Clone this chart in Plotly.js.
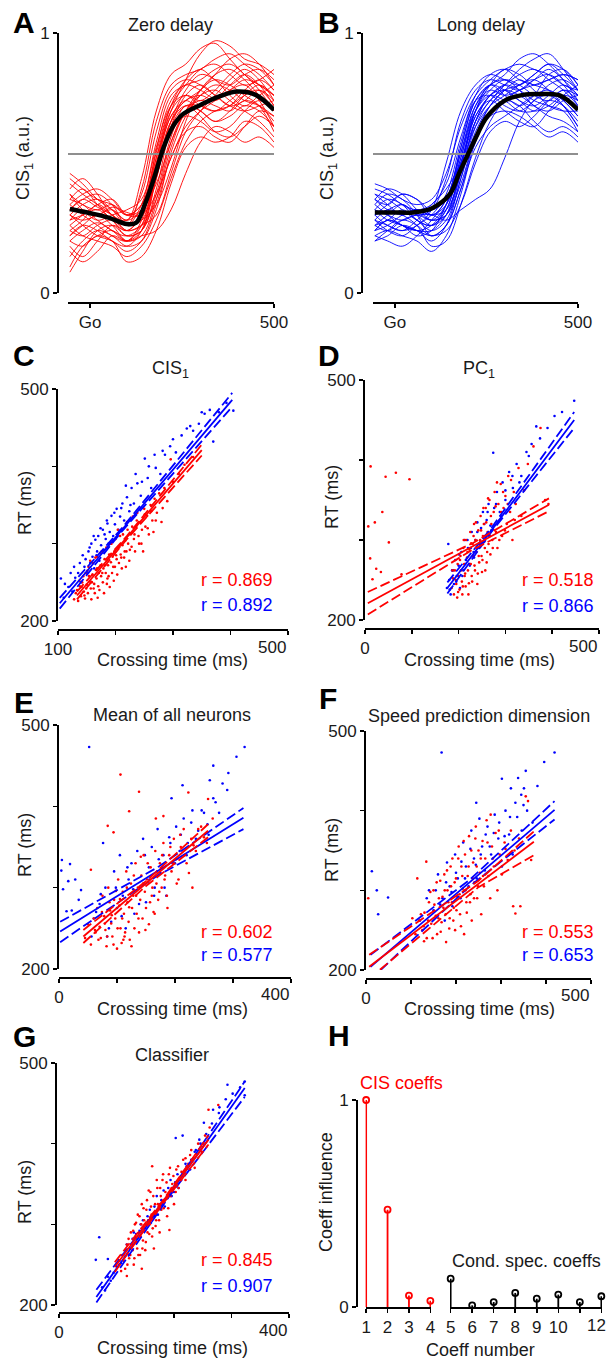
<!DOCTYPE html>
<html><head><meta charset="utf-8">
<script src="https://cdn.plot.ly/plotly-3.0.1.min.js"></script>
<style>html,body{margin:0;padding:0;background:#fff}#plot{width:608px;height:1360px}</style>
</head><body><div id="plot"></div>
<script>
// ---------------- DATA ----------------
// Panel A / B: CIS1 trajectories, time (ms) relative to Go
const tGrid = [-55,-20,20,60,100,140,180,220,260,300,340,380,420,460,500];
const threshold = 0.535;
const curvesA = [
[.32,.36,.33,.30,.26,.40,.66,.80,.84,.86,.90,.92,.88,.84,.78],
[.20,.24,.27,.24,.20,.28,.55,.74,.80,.78,.75,.80,.84,.80,.72],
[.44,.40,.36,.34,.30,.34,.52,.70,.82,.92,.97,.95,.90,.88,.84],
[.28,.30,.32,.28,.22,.24,.40,.64,.76,.80,.76,.72,.74,.78,.74],
[.10,.18,.22,.24,.20,.22,.36,.58,.70,.74,.72,.70,.74,.72,.66],
[.36,.34,.30,.33,.31,.30,.45,.62,.68,.66,.62,.64,.70,.74,.70],
[.24,.28,.34,.30,.24,.26,.30,.46,.62,.70,.76,.82,.86,.82,.74],
[.40,.44,.38,.30,.28,.44,.70,.84,.88,.94,.96,.90,.84,.80,.76],
[.30,.26,.22,.20,.16,.20,.34,.52,.62,.64,.60,.58,.64,.70,.68],
[.18,.14,.20,.26,.24,.30,.50,.70,.76,.74,.78,.84,.88,.86,.80],
[.34,.38,.40,.36,.30,.32,.42,.58,.70,.78,.82,.80,.76,.72,.62],
[.26,.22,.20,.18,.14,.18,.28,.44,.58,.66,.70,.72,.76,.78,.72],
[.38,.32,.28,.30,.32,.36,.56,.72,.76,.72,.70,.74,.78,.76,.70],
[.22,.26,.30,.26,.20,.22,.24,.32,.46,.58,.64,.62,.58,.60,.56],
[.30,.34,.36,.32,.26,.34,.58,.76,.80,.82,.86,.88,.84,.78,.70],
[.14,.20,.24,.22,.18,.20,.32,.54,.68,.76,.80,.78,.74,.72,.68],
[.42,.38,.34,.30,.26,.28,.46,.66,.74,.76,.74,.78,.82,.80,.76],
[.28,.32,.28,.24,.22,.26,.44,.66,.78,.84,.82,.76,.72,.76,.80],
[.08,.16,.24,.26,.22,.24,.38,.60,.72,.70,.66,.68,.72,.70,.64],
[.34,.30,.26,.22,.20,.26,.48,.68,.74,.70,.66,.70,.76,.80,.76],
[.26,.30,.34,.36,.30,.30,.38,.52,.64,.70,.74,.78,.80,.74,.64],
[.36,.40,.34,.28,.24,.30,.52,.72,.82,.86,.82,.80,.84,.86,.82],
[.20,.18,.22,.20,.12,.14,.24,.42,.56,.60,.58,.60,.66,.64,.58],
[.30,.28,.30,.32,.28,.38,.62,.78,.82,.80,.76,.72,.70,.72,.74],
[.24,.22,.26,.28,.24,.26,.36,.56,.70,.76,.78,.74,.70,.66,.60],
[.46,.42,.36,.32,.28,.32,.50,.68,.74,.78,.84,.90,.92,.88,.80],
[.16,.12,.16,.22,.20,.24,.44,.64,.72,.72,.70,.72,.78,.82,.78],
[.32,.36,.38,.34,.26,.28,.34,.48,.66,.78,.84,.86,.82,.76,.70],
[.22,.26,.24,.20,.18,.24,.46,.66,.72,.68,.62,.60,.64,.68,.64],
[.38,.34,.32,.34,.30,.34,.54,.72,.80,.86,.88,.84,.80,.82,.86]
];
const curvesB = [
[.30,.32,.34,.30,.32,.44,.66,.78,.82,.80,.78,.82,.86,.82,.76],
[.24,.28,.26,.22,.24,.34,.52,.70,.78,.82,.80,.76,.74,.78,.74],
[.36,.34,.38,.36,.30,.36,.56,.74,.80,.84,.90,.92,.88,.82,.74],
[.28,.24,.22,.26,.30,.38,.58,.74,.76,.72,.70,.74,.80,.82,.78],
[.40,.38,.34,.32,.34,.42,.60,.76,.84,.86,.82,.80,.78,.74,.68],
[.20,.22,.26,.24,.20,.26,.44,.64,.74,.78,.76,.72,.68,.66,.62],
[.32,.30,.28,.30,.28,.30,.46,.66,.76,.80,.84,.86,.82,.78,.72],
[.26,.30,.34,.30,.26,.30,.48,.68,.74,.70,.66,.64,.70,.76,.80],
[.34,.38,.36,.30,.22,.26,.40,.60,.72,.78,.80,.84,.88,.86,.80],
[.22,.20,.18,.22,.28,.36,.54,.70,.76,.74,.70,.70,.74,.72,.66],
[.38,.36,.32,.28,.26,.32,.52,.72,.80,.82,.78,.72,.70,.74,.76],
[.30,.26,.24,.28,.34,.40,.50,.64,.72,.76,.80,.82,.78,.72,.64],
[.24,.26,.30,.32,.28,.30,.42,.60,.70,.74,.72,.66,.62,.64,.60],
[.42,.40,.36,.34,.36,.46,.64,.76,.82,.86,.88,.86,.84,.80,.78],
[.28,.32,.30,.26,.18,.20,.34,.52,.66,.74,.78,.80,.82,.84,.82],
[.32,.28,.26,.24,.24,.30,.48,.70,.80,.76,.72,.76,.84,.86,.80],
[.26,.24,.28,.30,.30,.28,.32,.36,.40,.52,.66,.74,.76,.72,.64],
[.36,.40,.38,.32,.28,.34,.54,.72,.78,.76,.78,.82,.84,.80,.72],
[.22,.24,.22,.20,.16,.22,.38,.58,.68,.70,.68,.64,.60,.62,.58],
[.30,.34,.38,.36,.32,.36,.50,.66,.74,.80,.86,.90,.92,.86,.78],
[.34,.30,.26,.24,.26,.34,.56,.74,.80,.78,.74,.72,.76,.80,.76],
[.26,.28,.32,.28,.24,.28,.44,.62,.72,.78,.82,.78,.72,.70,.70],
[.38,.34,.30,.32,.30,.34,.50,.70,.80,.86,.84,.80,.82,.84,.82],
[.20,.24,.28,.26,.22,.26,.40,.56,.64,.68,.72,.76,.78,.74,.68],
[.32,.36,.34,.28,.26,.32,.50,.68,.76,.80,.78,.74,.72,.70,.62],
[.28,.26,.24,.26,.32,.50,.70,.80,.84,.82,.80,.84,.88,.84,.78],
[.24,.28,.26,.24,.22,.24,.34,.50,.62,.66,.64,.68,.74,.78,.76],
[.36,.32,.30,.32,.30,.32,.46,.66,.76,.78,.74,.70,.72,.76,.74]
];
const meanTA = [-55,0,50,100,125,150,175,200,225,250,300,350,400,450,500];
const meanA  = [.323,.307,.29,.265,.27,.345,.447,.56,.64,.685,.723,.755,.775,.762,.704];
const meanTB = [-55,0,50,100,150,175,200,225,250,300,350,400,450,500];
const meanB  = [.31,.31,.31,.325,.38,.46,.535,.61,.675,.74,.762,.765,.76,.705];

// Panel C: CIS1 crossing time vs RT
const cRedX = [128,131,135,138,140,142,145,147,148,150,152,153,155,157,158,160,161,163,164,166,167,168,170,171,172,174,175,176,178,179,180,181,183,184,185,187,188,189,190,192,193,194,195,197,198,199,200,202,203,205,206,208,209,211,212,214,215,217,219,220,222,224,226,228,230,232,234,236,238,240,243,245,248,250,252,255,258,261,264,268,272,276,280,285,290,296,300,310,320,335,
  133,137,141,144,146,149,151,154,156,159,162,165,168,169,173,177,182,186,191,196,201,204,207,210,213,216,218,221,225,229,233,237,241,246,251,256,262,266,270,282];
const cRedY = [228,236,226,245,232,250,238,229,262,247,236,270,251,242,228,260,275,248,236,266,255,283,245,262,240,272,258,290,250,268,236,280,262,295,248,272,258,286,244,276,300,262,283,252,290,270,306,280,260,294,275,310,286,268,298,320,282,304,290,328,300,278,312,296,335,306,290,322,340,310,328,300,290,345,322,336,312,350,330,358,340,365,328,372,355,409,380,390,402,412,
  240,252,244,258,233,242,265,258,278,250,242,282,268,230,288,262,272,255,300,270,285,318,296,282,312,290,270,318,292,322,312,330,300,318,338,320,342,315,330,346];
const cBlueX = [105,110,118,125,130,135,140,143,146,150,153,156,158,160,163,165,168,170,172,175,178,180,183,186,188,190,193,196,199,202,205,208,212,215,220,224,228,232,238,244,251,256,262,270,278,286,295,305,315,324,335,345,355,364,370,380,393,405,
  112,122,128,138,148,155,162,167,174,181,185,192,198,204,210,218,226,235,246,258,268,282,300,330,350];
const cBlueY = [255,230,244,238,256,262,250,285,270,262,290,275,300,283,268,305,290,310,278,298,318,292,306,326,300,315,336,310,325,345,318,335,352,330,360,342,372,352,378,362,410,385,372,398,390,415,426,418,440,449,446,455,468,473,432,470,482,472,
  248,262,270,275,280,295,310,285,320,312,330,300,340,312,346,375,350,390,380,400,415,420,435,452,470];
const cRedFitX = [133,220,350], cRedFit = [233,308,421], cRedHi = [238,310,428], cRedLo = [228,306,414];
const cBlueFitX = [103,210,403], cBlueFit = [223,317,486], cBlueHi = [230,319,495], cBlueLo = [216,315,477];
const cR = ['r = 0.869','r = 0.892'];

// Panel D: PC1
const dRedX = [12,44,66,95,37,7,21,51,11,24,34,16,78,185,188,190,192,195,197,198,200,202,204,205,207,208,210,212,213,215,216,218,220,222,223,225,226,228,230,231,233,235,236,238,240,242,244,245,247,249,250,252,254,256,258,260,262,264,266,268,270,272,275,277,280,283,285,288,290,293,296,300,303,306,310,315,318,322,328,334,340,348,360,375,385,392,
  187,194,199,203,209,211,214,219,221,224,227,229,232,234,237,239,241,243,246,248,251,253,255,257,259,261,263,267,269,273,276,279,282,287,291,295,299,305,312,320];
const dRedY = [392,379,384,376,335,317,322,297,277,264,260,251,257,240,252,232,262,245,228,270,255,238,280,262,248,232,290,270,255,242,300,278,262,246,288,310,270,255,295,280,320,262,300,285,245,312,272,295,330,280,260,305,320,290,340,272,310,295,350,282,320,300,335,360,310,290,345,325,370,305,340,355,320,380,335,300,360,345,390,330,362,395,417,440,350,345,
  262,250,235,275,242,300,258,285,232,270,296,248,305,268,322,290,258,280,300,312,275,340,298,262,322,285,352,305,330,290,318,342,372,300,335,360,312,345,375,325];
const dBlueX = [175,178,180,183,186,190,193,196,200,203,206,210,213,216,220,224,228,232,236,240,244,248,252,256,260,264,268,274,276,282,288,294,300,308,316,324,334,345,356,366,374,390,405,421,447,
  181,188,195,201,208,214,219,226,233,240,247,255,262,270,280,290,300,315,330,350];
const dBlueY = [240,295,250,232,262,245,275,255,268,240,285,262,300,275,290,268,310,285,300,322,290,315,335,305,325,345,318,409,340,360,335,372,350,385,365,395,380,410,420,442,427,440,455,460,474,
  238,262,248,282,255,270,300,290,278,310,298,320,335,312,345,330,362,380,372,405];
const dRedFitX = [6,230,393], dRedFit = [221,292,344], dRedHi = [235,296,352], dRedLo = [207,288,336];
const dBlueFitX = [176,270,447], dBlueFit = [240,312,450], dBlueHi = [247,315,460], dBlueLo = [233,310,440];
const dR = ['r = 0.518','r = 0.866'];

// Panel E: mean of all neurons
const eRedX = [106,121,138,167,180,223,257,230,55,84,94,111,45,50,55,60,63,66,70,72,75,78,80,82,85,88,90,92,95,97,100,102,104,106,108,110,112,114,116,118,120,122,124,126,128,130,132,134,136,138,140,142,144,146,148,150,152,155,158,160,163,166,168,171,174,177,180,183,186,190,194,198,202,206,210,215,220,228,236,245,255,265,
  62,68,74,79,83,87,91,94,98,101,105,109,113,117,121,125,129,133,137,141,145,149,153,157,161,165,169,173,178,182,187,192,197,203,209,216,224,232,240,250];
const eRedY = [439,394,418,385,388,417,409,300,322,376,368,236,238,255,230,262,245,275,252,238,290,265,248,228,300,272,256,240,285,262,225,310,278,250,232,295,268,245,320,282,258,236,305,275,290,250,330,268,300,245,285,315,262,340,295,275,310,255,325,290,270,345,305,285,330,300,355,315,290,340,320,360,335,310,350,372,330,360,345,375,355,385,
  248,236,270,256,240,282,266,230,296,250,286,262,240,300,276,228,315,290,262,338,305,248,330,282,300,268,320,295,340,310,275,350,330,305,365,340,318,352,372,362];
const eBlueX = [52,320,306,266,260,282,292,213,194,5,19,4,16,28,7,38,13,22,34,76,83,60,70,80,90,95,100,105,110,115,120,125,130,135,140,145,150,155,160,165,170,175,180,185,190,196,202,208,215,222,230,240,250,258,270,
  56,64,72,86,98,108,118,128,138,148,156,164,172,182,192,200,210,220,228,236,246,256,266,276,290];
const eBlueY = [473,473,461,450,432,428,441,426,410,334,329,321,308,310,298,297,271,272,285,355,240,262,280,300,258,320,275,340,290,250,310,330,268,345,300,360,282,325,350,300,372,318,340,290,362,330,375,345,385,355,395,370,392,365,405,
  240,270,292,250,300,265,325,298,280,340,310,290,335,300,355,330,365,340,380,360,395,378,410,392,420];
const eRedFitX = [42,150,257], eRedFit = [240,305,370], eRedHi = [248,308,378], eRedLo = [232,302,362];
const eBlueFitX = [2,170,318], eBlueFit = [246,320,386], eBlueHi = [258,325,398], eBlueLo = [233,315,372];
const eR = ['r = 0.602','r = 0.577'];

// Panel F: speed prediction dimension
const fRedX = [5,355,360,277,327,343,332,114,103,129,134,367,110,118,125,130,135,140,145,150,155,158,162,165,168,172,175,178,180,183,186,189,192,195,198,200,203,206,209,212,215,218,220,223,226,229,232,235,238,241,244,247,250,253,256,259,262,265,268,272,276,280,284,288,292,297,302,308,315,322,330,340,
  122,128,138,143,148,152,157,161,166,170,174,177,181,185,188,191,194,197,201,205,208,211,214,217,221,224,228,231,234,237,240,243,246,249,255,260,270,282,295,310];
const fRedY = [290,418,412,395,280,280,271,315,265,236,336,338,245,262,250,272,240,285,258,300,268,245,290,312,260,278,300,235,325,285,265,305,340,278,250,315,292,355,270,330,302,245,345,285,318,368,295,262,335,310,380,290,350,322,270,362,305,340,388,318,290,355,330,372,300,345,320,360,338,375,350,365,
  270,255,262,298,240,282,310,265,248,292,320,270,300,252,330,285,262,310,275,340,295,255,318,362,300,272,330,285,350,315,290,365,330,305,340,318,360,340,375,352];
const fBlueX = [168,419,396,355,302,338,322,351,381,245,350,13,24,49,27,140,150,160,170,175,180,186,192,198,204,210,216,222,228,234,240,246,252,258,264,270,278,286,294,302,310,318,326,336,346,358,370,
  120,135,155,165,178,190,200,212,220,232,244,255,266,275,284,296,308,320,332,345];
const fBlueY = [473,473,461,450,440,441,428,428,431,410,407,324,300,291,270,300,275,320,290,262,335,305,280,345,315,290,360,330,305,375,340,315,390,355,325,380,345,395,365,330,400,370,345,392,375,400,385,
  262,290,300,282,310,298,322,336,315,352,332,345,370,355,372,385,368,392,410,420];
const fRedFitX = [7,250,373], fRedFit = [204,308,361], fRedHi = [219,312,374], fRedLo = [189,304,344];
const fBlueFitX = [10,230,419], fBlueFit = [204,310,401], fBlueHi = [219,313,412], fBlueLo = [188,305,389];
const fR = ['r = 0.553','r = 0.653'];

// Panel G: classifier
const gRedX = [162,260,277,228,118,144,192,105,110,115,118,122,125,128,130,132,135,138,140,142,145,147,149,151,153,155,157,159,161,163,165,167,169,171,173,175,177,180,182,185,188,191,194,197,200,204,208,212,216,220,225,230,236,242,248,254,262,
  108,112,116,119,121,124,127,129,131,133,134,136,137,139,141,143,144,146,148,150,152,154,156,158,160,162,164,166,168,170,172,174,176,178,181,184,187,190,193,196,199,203,207,213,220];
const gRedY = [372,442,448,386,236,245,293,250,262,245,275,258,290,268,250,300,278,262,310,285,270,320,295,278,330,305,288,340,312,295,270,325,305,345,318,290,335,355,320,340,310,362,335,350,325,368,345,360,380,355,375,392,370,400,390,410,420,
  242,255,268,250,282,262,275,292,258,285,302,270,312,290,262,300,325,280,305,268,318,290,342,300,322,285,335,310,298,355,325,305,345,318,362,330,352,320,370,345,360,340,372,365,382];
const gBlueX = [64,70,85,293,323,323,268,215,203,252,244,279,75,85,95,105,112,118,124,130,136,142,148,154,160,166,172,178,184,190,196,202,208,215,222,230,238,246,256,266,278,290,302,315,
  80,90,100,108,115,122,128,134,140,146,152,158,164,170,176,182,188,194,200,206,212,220,228,236,250];
const gBlueY = [256,284,257,473,460,477,442,410,407,426,405,445,222,235,240,255,262,275,270,290,282,300,292,310,302,322,312,330,322,345,335,352,345,362,372,380,392,400,412,425,438,455,462,470,
  218,230,248,252,268,262,282,288,292,305,300,318,312,335,325,342,332,355,340,362,355,375,368,390,400];
const gRedFitX = [97,180,260], gRedFit = [247,327,405], gRedHi = [253,329,410], gRedLo = [241,325,399];
const gBlueFitX = [65,190,323], gBlueFit = [210,335,469], gBlueHi = [219,337,477], gBlueLo = [203,333,458];
const gR = ['r = 0.845','r = 0.907'];

// Panel H: coefficient influence
const cisCoeffN = [1,2,3,4];
const cisCoeffV = [1.0,0.47,0.055,0.03];
const condCoeffN = [5,6,7,8,9,10,11,12];
const condCoeffV = [0.137,0.008,0.024,0.068,0.04,0.06,0.024,0.052];
const condLabelN = [5,6,7,8,9,10];
const lastCoeffLabel = 12;

// ---------------- LAYOUT HELPERS ----------------
const W = 608, H = 1360;
const FONT = '"Liberation Sans", Arial, Helvetica, sans-serif';
const RED = '#ff0000', BLUE = '#0000ff', TXT = '#1a1a1a';
const FS = 18, TFS = 17;
const xd = (a,b) => [a/W, b/W];
const yd = (top,bot) => [1-bot/H, 1-top/H];
const px = x => x/W, py = y => 1 - y/H;
const DASH = '10px,4px';

function ax(o){
  return Object.assign({showline:true, linecolor:'#000', linewidth:1.6, ticks:'outside', ticklen:4,
    tickwidth:1.5, tickcolor:'#000', showgrid:false, zeroline:false, anchor:'free',
    tickfont:{family:FONT,size:TFS,color:TXT}, fixedrange:true, automargin:false}, o);
}
function minorTicks(vals){ return {tickmode:'array', tickvals:vals, ticks:'outside', ticklen:4, tickwidth:1.5, tickcolor:'#000', showgrid:false}; }

const traces = [];
const layout = {width:W, height:H, margin:{l:0,r:0,t:0,b:0}, showlegend:false,
  paper_bgcolor:'#fff', plot_bgcolor:'rgba(0,0,0,0)', font:{family:FONT,color:TXT}, annotations:[]};

// right-aligned end-of-axis tick label (as in the figure, the last label ends at its tick)
function endLabel(xa, val, ypix, xanchor){
  layout.annotations.push({text:String(val), x:val, xref:xa, y:py(ypix), yref:'paper', xanchor:xanchor||'right',
    yanchor:'middle', showarrow:false, font:{family:FONT,size:TFS,color:TXT}});
}

// ---- A & B ----
const rangeAB = [-60,500];
function trajPanel(n, xdom, yaxPos, curves, color, meanT, meanV){
  const s = (n===1?'':n), xa = 'x'+s, ya = 'y'+s;
  curves.forEach(c => traces.push({x:tGrid, y:c, mode:'lines', xaxis:xa, yaxis:ya,
    line:{color:color, width:0.9, shape:'spline', smoothing:1}}));
  traces.push({x:rangeAB, y:[threshold,threshold], mode:'lines', xaxis:xa, yaxis:ya,
    line:{color:'#8f8f8f', width:2}});
  traces.push({x:meanT, y:meanV, mode:'lines', xaxis:xa, yaxis:ya,
    line:{color:'#000', width:4.5, shape:'spline', smoothing:1}});
  layout['xaxis'+s] = ax({domain:xd(...xdom), range:rangeAB, position:py(302),
    tickvals:[0,500], ticktext:['Go','500']});
  layout['yaxis'+s] = ax({domain:yd(33,293), range:[0,1], position:px(yaxPos),
    tickvals:[0,1], ticktext:['0','1']});
}
trajPanel(1,[68,274],57,curvesA,RED,meanTA,meanA);
trajPanel(2,[373,578],361,curvesB,BLUE,meanTB,meanB);

// ---- scatter panels ----
function scatPanel(n, d){
  const xa='x'+n, ya='y'+n;
  traces.push({x:d.bx, y:d.by, mode:'markers', xaxis:xa, yaxis:ya, marker:{color:BLUE,size:2.6}});
  traces.push({x:d.rx, y:d.ry, mode:'markers', xaxis:xa, yaxis:ya, marker:{color:RED,size:2.6}});
  const line = (xs,ys,c,dash)=>traces.push({x:xs,y:ys,mode:'lines',xaxis:xa,yaxis:ya,
    line:{color:c,width:1.8,dash:dash}});
  line(d.bfx,d.bfit,BLUE,'solid'); line(d.bfx,d.bhi,BLUE,DASH); line(d.bfx,d.blo,BLUE,DASH);
  line(d.rfx,d.rfit,RED,'solid'); line(d.rfx,d.rhi,RED,DASH); line(d.rfx,d.rlo,RED,DASH);
  const xt = d.xt, last = xt[xt.length-1];
  layout['xaxis'+n] = ax({domain:xd(...d.xdom), range:d.xr, position:py(d.xpos),
    tickvals:[xt[0]], ticktext:[String(xt[0])], minor:minorTicks(xt.slice(1))});
  layout['yaxis'+n] = ax({domain:yd(...d.ydom), range:[200,500], position:px(d.ypos),
    tickvals:[200,500], ticktext:['200','500'], minor:minorTicks([300,400])});
  endLabel(xa, last, d.xpos+18);
  layout.annotations.push(
    {text:d.r[0], x:px(d.rxr), y:py(d.ry1), xref:'paper', yref:'paper', xanchor:'right', yanchor:'middle', showarrow:false, font:{family:FONT,size:FS,color:RED}},
    {text:d.r[1], x:px(d.rxr), y:py(d.ry2), xref:'paper', yref:'paper', xanchor:'right', yanchor:'middle', showarrow:false, font:{family:FONT,size:FS,color:BLUE}});
}
scatPanel(3,{rx:cRedX,ry:cRedY,bx:cBlueX,by:cBlueY,rfx:cRedFitX,rfit:cRedFit,rhi:cRedHi,rlo:cRedLo,
  bfx:cBlueFitX,bfit:cBlueFit,bhi:cBlueHi,blo:cBlueLo,xdom:[58,288],xr:[100,500],xpos:629,xt:[100,200,300,400,500],
  ydom:[389,621],ypos:56,r:cR,rxr:275,ry1:580,ry2:605});
scatPanel(4,{rx:dRedX,ry:dRedY,bx:dBlueX,by:dBlueY,rfx:dRedFitX,rfit:dRedFit,rhi:dRedHi,rlo:dRedLo,
  bfx:dBlueFitX,bfit:dBlueFit,bhi:dBlueHi,blo:dBlueLo,xdom:[365,599],xr:[0,500],xpos:628,xt:[0,100,200,300,400,500],
  ydom:[380,620],ypos:363,r:dR,rxr:596,ry1:580,ry2:606});
scatPanel(5,{rx:eRedX,ry:eRedY,bx:eBlueX,by:eBlueY,rfx:eRedFitX,rfit:eRedFit,rhi:eRedHi,rlo:eRedLo,
  bfx:eBlueFitX,bfit:eBlueFit,bhi:eBlueHi,blo:eBlueLo,xdom:[59,291],xr:[0,400],xpos:977,xt:[0,100,200,300,400],
  ydom:[725,969],ypos:57,r:eR,rxr:275,ry1:932,ry2:955});
scatPanel(6,{rx:fRedX,ry:fRedY,bx:fBlueX,by:fBlueY,rfx:fRedFitX,rfit:fRedFit,rhi:fRedHi,rlo:fRedLo,
  bfx:fBlueFitX,bfit:fBlueFit,bhi:fBlueHi,blo:fBlueLo,xdom:[366,591],xr:[0,500],xpos:978,xt:[0,100,200,300,400,500],
  ydom:[731,970],ypos:364,r:fR,rxr:596,ry1:932,ry2:955});
scatPanel(7,{rx:gRedX,ry:gRedY,bx:gBlueX,by:gBlueY,rfx:gRedFitX,rfit:gRedFit,rhi:gRedHi,rlo:gRedLo,
  bfx:gBlueFitX,bfit:gBlueFit,bhi:gBlueHi,blo:gBlueLo,xdom:[59,289],xr:[0,400],xpos:1312,xt:[0,100,200,300,400],
  ydom:[1063,1305],ypos:55,r:gR,rxr:275,ry1:1260,ry2:1286});

// ---- H: stems drawn as one-sided error bars down to zero ----
function stems(xs, vs, color, xa){
  traces.push({x:xs, y:vs, mode:'markers', cliponaxis:false, xaxis:xa, yaxis:'y8',
    marker:{symbol:'circle-open', size:6, color:color, line:{width:1.8,color:color}},
    error_y:{type:'data', symmetric:false, array:vs.map(()=>0), arrayminus:vs, width:0, thickness:1.8, color:color}});
}
stems(cisCoeffN, cisCoeffV, RED, 'x8');
stems(condCoeffN, condCoeffV, '#000', 'x9');
layout.xaxis8 = ax({domain:xd(365.5,431), range:[0.97,4.03], anchor:'y8', tickvals:cisCoeffN, ticktext:cisCoeffN.map(String)});
layout.xaxis9 = ax({domain:xd(450,602), range:[4.97,12.03], anchor:'y8', tickvals:condLabelN, ticktext:condLabelN.map(String),
  minor:minorTicks([11,12])});
layout.yaxis8 = ax({domain:yd(1100,1307), range:[0,1], position:px(356), tickvals:[0,1], ticktext:['0','1']});
layout.annotations.push({text:String(lastCoeffLabel), x:px(607.5), y:py(1325), xref:'paper', yref:'paper', xanchor:'right',
  yanchor:'middle', showarrow:false, font:{family:FONT,size:TFS,color:TXT}});

// ---- text annotations ----
function ann(text,x,y,o){ layout.annotations.push(Object.assign({text:text, x:px(x), y:py(y), xref:'paper', yref:'paper',
  xanchor:'center', yanchor:'middle', showarrow:false, font:{family:FONT,size:FS,color:TXT}}, o||{})); }
[['A',24,22],['B',329,22],['C',24,356],['D',329,356],['E',24,702],['F',328,699],['G',24,1036],['H',339,1035]]
  .forEach(l=>ann(l[0],l[1],l[2],{font:{family:FONT,size:30,color:'#000',weight:'bold'}}));
ann('Zero delay',170,25); ann('Long delay',481,25);
ann('CIS<sub>1</sub>',170,370); ann('PC<sub>1</sub>',479,370);
ann('Mean of all neurons',172,715); ann('Speed prediction dimension',479,716); ann('Classifier',172,1055);
ann('CIS<sub>1</sub> (a.u.)',24,158,{textangle:-90}); ann('CIS<sub>1</sub> (a.u.)',328,158,{textangle:-90});
[[25,503],[332,497],[25,845],[332,850],[25,1192]].forEach(p=>ann('RT (ms)',p[0],p[1],{textangle:-90}));
ann('Coeff influence',326,1192,{textangle:-90});
[[172,660],[479,660],[172,1009],[479,1009],[172,1348]].forEach(p=>ann('Crossing time (ms)',p[0],p[1]));
ann('Coeff number',481,1350);
ann('CIS coeffs',401,1083,{font:{family:FONT,size:FS,color:RED}});
ann('Cond. spec. coeffs',526,1261,{font:{family:FONT,size:FS,color:TXT}});

Plotly.newPlot('plot', traces, layout, {staticPlot:true, displayModeBar:false});
</script></body></html>
